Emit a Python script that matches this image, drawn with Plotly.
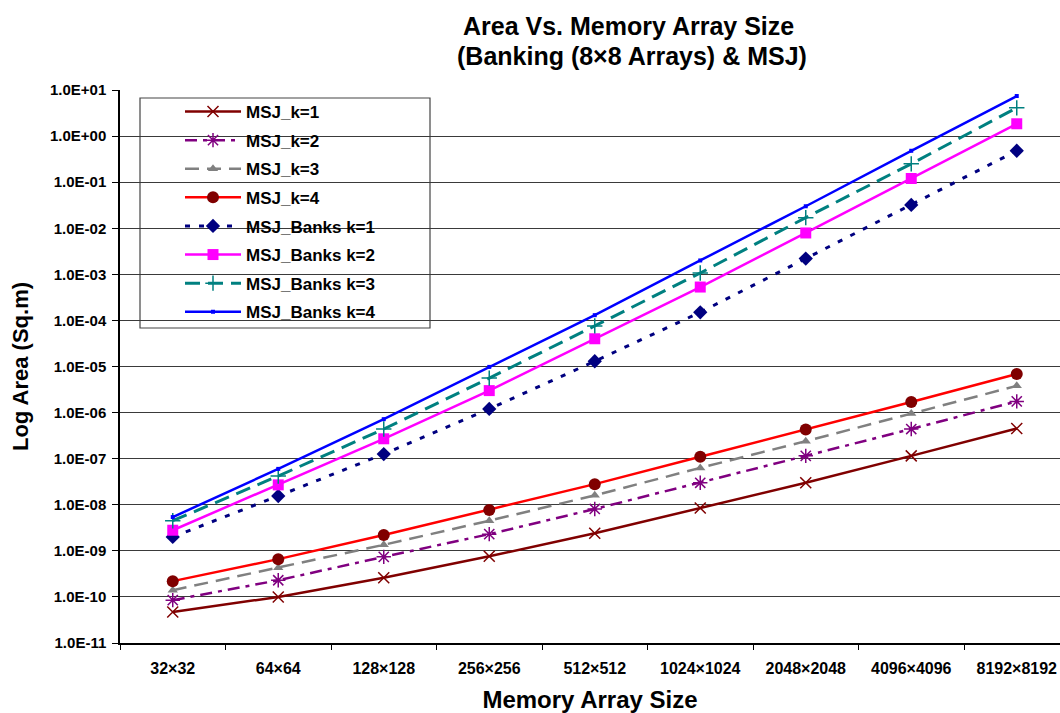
import plotly.graph_objects as go

# Memory array sizes (categories on the x axis)
sizes = ["32×32", "64×64", "128×128", "256×256", "512×512",
         "1024×1024", "2048×2048", "4096×4096", "8192×8192"]

# Area in square metres for each configuration
msj_k1 = [4.7e-11, 1.0e-10, 2.6e-10, 7.6e-10, 2.4e-9, 8.5e-9, 3.0e-8, 1.15e-7, 4.5e-7]
msj_k2 = [8.5e-11, 2.3e-10, 7.4e-10, 2.3e-9, 8.1e-9, 3.0e-8, 1.15e-7, 4.4e-7, 1.75e-6]
msj_k3 = [1.4e-10, 4.3e-10, 1.35e-9, 4.5e-9, 1.6e-8, 6.3e-8, 2.4e-7, 9.5e-7, 3.8e-6]
msj_k4 = [2.2e-10, 6.6e-10, 2.2e-9, 7.7e-9, 2.8e-8, 1.1e-7, 4.3e-7, 1.7e-6, 6.9e-6]
banks_k1 = [2.0e-9, 1.55e-8, 1.26e-7, 1.2e-6, 1.3e-5, 1.5e-4, 2.2e-3, 3.2e-2, 0.48]
banks_k2 = [2.8e-9, 2.7e-8, 2.7e-7, 3.0e-6, 4.0e-5, 5.3e-4, 7.9e-3, 0.12, 1.85]
banks_k3 = [4.5e-9, 4.2e-8, 4.4e-7, 5.6e-6, 7.6e-5, 1.07e-3, 1.7e-2, 0.25, 4.1]
banks_k4 = [5.4e-9, 6.0e-8, 7.2e-7, 9.8e-6, 1.3e-4, 2.0e-3, 3.0e-2, 0.48, 7.4]

# Log-axis tick positions and their labels
y_tick_vals = [1e1, 1e0, 1e-1, 1e-2, 1e-3, 1e-4, 1e-5, 1e-6, 1e-7, 1e-8, 1e-9, 1e-10, 1e-11]
y_tick_text = ["1.0E+01", "1.0E+00", "1.0E-01", "1.0E-02", "1.0E-03", "1.0E-04", "1.0E-05",
               "1.0E-06", "1.0E-07", "1.0E-08", "1.0E-09", "1.0E-10", "1.0E-11"]

title_lines = ["Area Vs. Memory Array Size", "(Banking (8×8 Arrays) & MSJ)"]

series = [
    ("MSJ_k=1", msj_k1, dict(color="#800000", width=2.5, dash="solid"),
     dict(symbol="x-thin", size=11, color="#800000", line=dict(color="#800000", width=1.5))),
    ("MSJ_k=2", msj_k2, dict(color="#800080", width=2.5, dash="12px,6px,4px,6px"),
     dict(symbol="asterisk-open", size=12, color="#800080", line=dict(color="#800080", width=1.5))),
    ("MSJ_k=3", msj_k3, dict(color="#808080", width=2.5, dash="14px,8px"),
     dict(symbol="triangle-up", size=9, color="#808080")),
    ("MSJ_k=4", msj_k4, dict(color="#FF0000", width=2.5, dash="solid"),
     dict(symbol="circle", size=12, color="#800000")),
    ("MSJ_Banks k=1", banks_k1, dict(color="#000080", width=3, dash="5px,9px"),
     dict(symbol="diamond", size=11, color="#000080")),
    ("MSJ_Banks k=2", banks_k2, dict(color="#FF00FF", width=2.5, dash="solid"),
     dict(symbol="square", size=11, color="#FF00FF")),
    ("MSJ_Banks k=3", banks_k3, dict(color="#008080", width=3, dash="15px,8px"),
     dict(symbol="cross-thin", size=11, color="#008080", line=dict(color="#008080", width=1.5))),
    ("MSJ_Banks k=4", banks_k4, dict(color="#0000FF", width=2.5, dash="solid"),
     dict(symbol="square", size=4, color="#0000FF")),
]

fig = go.Figure()
for i, (name, vals, line, marker) in enumerate(series):
    fig.add_trace(go.Scatter(
        x=sizes, y=vals, name=name, mode="lines+markers",
        line=line, marker=marker, legendgroup=str(i),
    ))

sans = "Arial, Liberation Sans, sans-serif"

# plot area spans x 120..1060 px and y 90..643 px
def px_x(x):
    return (x - 120) / 940

def px_y(y):
    return (643 - y) / 553

def bold(size):
    return dict(size=size, family=sans, color="black", weight="bold")

fig.update_layout(
    width=1060, height=713,
    margin=dict(l=120, r=0, t=90, b=70),
    paper_bgcolor="white", plot_bgcolor="white",
    showlegend=True,
    legend=dict(
        x=px_x(180), y=px_y(94), xanchor="left", yanchor="top",
        bgcolor="rgba(0,0,0,0)", borderwidth=0,
        font=bold(17),
        tracegroupgap=3.5, itemwidth=56,
    ),
    shapes=[dict(
        type="rect", xref="paper", yref="paper",
        x0=px_x(140), x1=px_x(430), y0=px_y(328), y1=px_y(98),
        line=dict(color="#444", width=1.2), fillcolor="white", layer="below",
    )],
    annotations=[
        dict(text=title_lines[0], xref="paper", yref="paper",
             x=px_x(628), y=px_y(26), xanchor="center", yanchor="middle",
             showarrow=False, font=bold(25)),
        dict(text=title_lines[1], xref="paper", yref="paper",
             x=px_x(632), y=px_y(56), xanchor="center", yanchor="middle",
             showarrow=False, font=bold(25)),
    ],
)

fig.update_xaxes(
    type="category", range=[-0.5, 8.41],
    showline=True, linecolor="black", linewidth=1.5,
    ticks="outside", tickson="boundaries", ticklen=5, tickcolor="black",
    showgrid=False,
    tickfont=bold(16),
    ticklabelstandoff=10,
    title=dict(text="Memory Array Size", standoff=18, font=bold(24)),
)

fig.update_yaxes(
    type="log", range=[-11, 1],
    tickvals=y_tick_vals, ticktext=y_tick_text,
    showline=True, linecolor="black", linewidth=1.5,
    ticks="outside", ticklen=6, tickcolor="black",
    showgrid=True, gridcolor="#3a3a3a", gridwidth=1,
    tickfont=bold(15),
    ticklabelstandoff=3,
    title=dict(text="Log Area (Sq.m)", standoff=15, font=bold(22)),
)

fig.write_html("out.html")
